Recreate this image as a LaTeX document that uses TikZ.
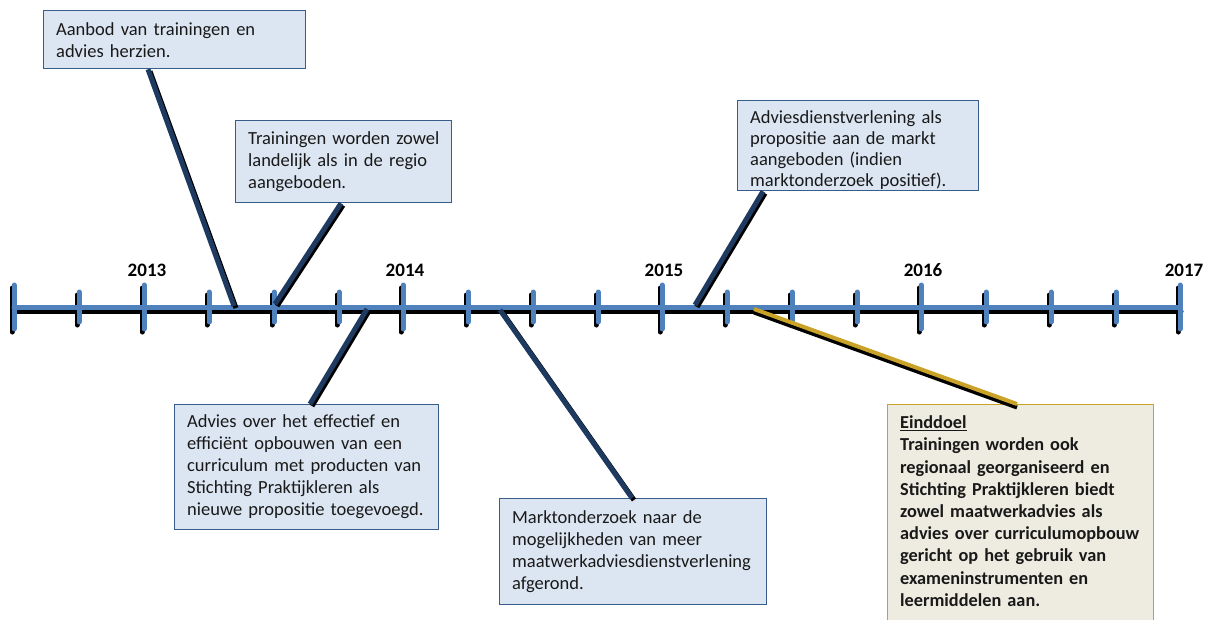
\documentclass[tikz,border=0pt]{standalone}
\usepackage{fontspec}
\setmainfont{Carlito}
\usetikzlibrary{calc}
\definecolor{tlblue}{HTML}{4F81BD}
\definecolor{navy}{HTML}{1F3A60}
\definecolor{boxfill}{HTML}{DCE6F2}
\definecolor{boxline}{HTML}{385D8A}
\definecolor{goalfill}{HTML}{EEECE1}
\definecolor{gold}{HTML}{C9A227}
\begin{document}
\begin{tikzpicture}[x=1pt,y=-1pt,
  txt/.style={font=\fontsize{18.5}{22}\selectfont, align=left, text=black!90},
  box/.style={txt, draw=boxline, line width=1.3pt, fill=boxfill, anchor=north west, inner xsep=12pt, inner ysep=3pt},
  goalbox/.style={box, draw=gold, fill=goalfill, font=\fontsize{18.3}{22.2}\selectfont\bfseries},
  year/.style={font=\fontsize{19}{20}\selectfont\bfseries, inner sep=0pt},
  conn/.style={draw=navy, line width=5pt, preaction={draw=black, line width=5pt, transform canvas={shift={(2pt,-2pt)}}}},
  goalconn/.style={draw=gold, line width=4pt, preaction={draw=black, line width=4pt, transform canvas={shift={(0pt,-3.5pt)}}}},
  tlshadow/.style={draw=black, line width=5pt, line cap=round},
  tl/.style={draw=tlblue, line width=5pt, line cap=round}
]
\useasboundingbox (0,0) rectangle (1213,619);

% timeline shadows
\draw[tlshadow] (14,311) -- (1181,311);
\foreach \x in {14,144,403,662,921,1180} \draw[tlshadow] (\x-2,288) -- (\x-2,332);
\foreach \x in {79,209,274,339,468,533,598,727,792,857,986,1051,1116} \draw[tlshadow] (\x-2,295) -- (\x-2,325);
% timeline
\draw[tl] (14,307) -- (1180,307);
\foreach \x in {14,144,403,662,921,1180} \draw[tl] (\x,285) -- (\x,329);
\foreach \x in {79,209,274,339,468,533,598,727,792,857,986,1051,1116} \draw[tl] (\x,292) -- (\x,322);

% years
\node[year] (y13) at (147,270) {2013};
\node[year] (y14) at (405,270) {2014};
\node[year] (y15) at (664,270) {2015};
\node[year] (y16) at (923,270) {2016};
\node[year] (y17) at (1184,270) {2017};

% timeline attachment points
\coordinate (t1) at (234,306);
\coordinate (t2) at (275,304);
\coordinate (t3) at (367,309);
\coordinate (t4) at (500,310);
\coordinate (t5) at (695,305);
\coordinate (t6) at (754,309);

% boxes
\node[box, minimum width=262pt, minimum height=58pt, text width=237pt] (b1) at (43,10)
  {Aanbod van trainingen en\\advies herzien.};
\node[box, minimum width=216pt, minimum height=82pt, text width=191pt] (b2) at (235,120)
  {\mbox{Trainingen worden zowel}\\landelijk als in de regio\\aangeboden.};
\node[box, minimum width=264pt, minimum height=125pt, text width=239pt] (b3) at (174,404)
  {Advies over het effectief en\\efficiënt opbouwen van een\\curriculum met producten van\\Stichting Praktijkleren als\\nieuwe propositie toegevoegd.};
\node[box, minimum width=267pt, minimum height=106pt, text width=242pt] (b4) at (499,498)
  {Marktonderzoek naar de\\mogelijkheden van meer\\maatwerkadviesdienstverlening\\afgerond.};
\node[box, minimum width=241pt, minimum height=90pt, text width=216pt, inner ysep=0pt, font=\fontsize{18.5}{21}\selectfont] (b5) at (737,100)
  {\rule{0pt}{23pt}Adviesdienstverlening als\\propositie aan de markt\\aangeboden (indien\\marktonderzoek positief).\rule[-4pt]{0pt}{1pt}};
\node[goalbox, minimum width=266pt, minimum height=222pt, text width=241pt] (b6) at (887,404)
  {\underline{Einddoel}\\Trainingen worden ook\\regionaal georganiseerd en\\Stichting Praktijkleren biedt\\zowel maatwerkadvies als\\advies over curriculumopbouw\\gericht op het gebruik van\\exameninstrumenten en\\leermiddelen aan.\rule[-9pt]{0pt}{1pt}};

% connectors
\draw[conn] ($(b1.south west)+(105,0)$) -- (t1);
\draw[conn] ($(b2.south west)+(106,0)$) -- (t2);
\draw[conn] (t3) -- ($(b3.north west)+(136,0)$);
\draw[conn] (t4) -- ($(b4.north west)+(133,0)$);
\draw[conn] ($(b5.south west)+(26,0)$) -- (t5);
\draw[goalconn] (t6) -- ($(b6.north west)+(130,0)$);
\end{tikzpicture}
\end{document}
